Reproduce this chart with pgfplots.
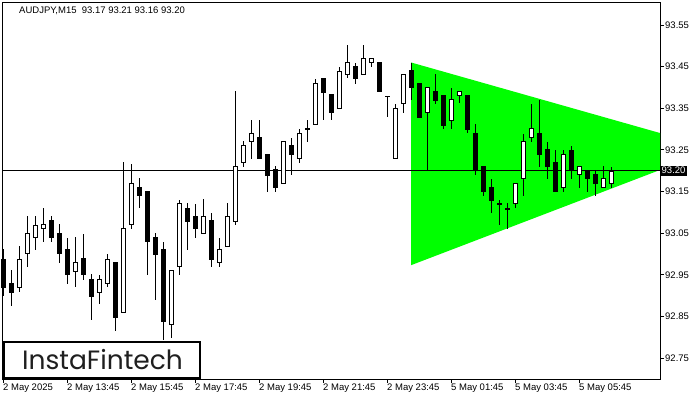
\documentclass[border=0pt]{standalone}
\usepackage{pgfplots}
\usepackage{pgfplotstable}
\pgfplotsset{compat=1.18}
\usepackage{fontspec}
\setmainfont{Liberation Sans}
\newfontfamily\logofont{Poppins}
\definecolor{lime}{RGB}{0,255,0}
\pgfplotstableread{
x  o      h      l      c
0  92.989 93.012 92.900 92.920
1  92.930 92.962 92.877 92.909
2  92.920 93.021 92.909 92.989
3  93.001 93.091 92.969 93.050
4  93.040 93.091 93.011 93.071
5  93.061 93.110 93.029 93.072
6  93.082 93.091 93.029 93.039
7  93.050 93.074 92.979 93.001
8  93.011 93.040 92.930 92.951
9  92.960 93.040 92.920 92.980
10 92.989 93.050 92.939 92.951
11 92.939 92.951 92.840 92.900
12 92.909 92.951 92.880 92.939
13 92.930 93.001 92.920 92.989
14 92.980 92.980 92.817 92.849
15 92.860 93.222 92.860 93.061
16 93.071 93.216 93.061 93.170
17 93.161 93.182 93.110 93.141
18 93.151 93.151 92.951 93.029
19 93.040 93.050 92.889 93.001
20 93.011 93.029 92.793 92.840
21 92.831 92.960 92.800 92.960
22 92.970 93.132 92.951 93.122
23 93.110 93.122 93.011 93.080
24 93.091 93.122 93.040 93.061
25 93.050 93.132 93.050 93.091
26 93.082 93.100 92.969 92.989
27 92.980 93.040 92.969 93.011
28 93.020 93.122 93.020 93.091
29 93.080 93.391 93.070 93.211
30 93.220 93.271 93.210 93.262
31 93.270 93.322 93.230 93.290
32 93.280 93.322 93.230 93.230
33 93.240 93.240 93.150 93.191
34 93.202 93.211 93.150 93.160
35 93.170 93.271 93.170 93.271
36 93.262 93.280 93.191 93.239
37 93.230 93.302 93.220 93.290
38 93.302 93.322 93.270 93.302
39 93.311 93.422 93.311 93.410
40 93.422 93.422 93.322 93.390
41 93.382 93.382 93.322 93.340
42 93.350 93.450 93.350 93.440
43 93.432 93.502 93.422 93.460
44 93.450 93.460 93.410 93.422
45 93.432 93.502 93.432 93.470
46 93.460 93.470 93.450 93.470
47 93.460 93.460 93.390 93.390
48 93.380 93.380 93.330 93.380
49 93.230 93.362 93.230 93.350
50 93.362 93.432 93.341 93.432
51 93.442 93.460 93.370 93.400
52 93.410 93.410 93.330 93.330
53 93.340 93.400 93.202 93.400
54 93.391 93.432 93.360 93.370
55 93.381 93.381 93.300 93.310
56 93.320 93.400 93.300 93.372
57 93.381 93.391 93.362 93.391
58 93.381 93.381 93.290 93.300
59 93.290 93.312 93.191 93.202
60 93.211 93.211 93.140 93.150
61 93.160 93.182 93.100 93.130
62 93.122 93.131 93.071 93.122
63 93.110 93.122 93.061 93.110
64 93.122 93.170 93.110 93.170
65 93.182 93.290 93.140 93.271
66 93.280 93.362 93.270 93.302
67 93.290 93.372 93.210 93.240
68 93.251 93.271 93.182 93.210
69 93.220 93.251 93.150 93.150
70 93.160 93.251 93.150 93.240
71 93.251 93.262 93.182 93.202
72 93.191 93.211 93.160 93.211
73 93.200 93.200 93.150 93.182
74 93.191 93.202 93.140 93.170
75 93.160 93.211 93.160 93.182
76 93.170 93.210 93.160 93.200
}\candles
\begin{document}
\begin{tikzpicture}
\useasboundingbox (-2bp,-21bp) rectangle (698bp,379bp);
\begin{axis}[
  at={(0,0)}, anchor=south west,
  scale only axis, width=658bp, height=376bp,
  xmin=-0.19, xmax=82.06, ymin=92.6996, ymax=93.6029,
  axis line style={line width=1bp},
  clip=false,
  tick align=outside,
  xtick pos=bottom, ytick pos=right, yticklabel pos=right,
  major tick length=4bp,
  tick style={black, line width=1bp},
  xtick={0,8,...,72},
  xticklabels={2 May 2025, 2 May 13:45, 2 May 15:45, 2 May 17:45, 2 May 19:45, 2 May 21:45, 2 May 23:45, 5 May 01:45, 5 May 03:45, 5 May 05:45},
  ytick={92.75,92.85,92.95,93.05,93.15,93.25,93.35,93.45,93.55},
  scaled y ticks=false,
  every tick label/.append style={font=\fontsize{9.5bp}{11bp}\selectfont},
  xticklabel style={anchor=north west, xshift=-1.5bp, inner sep=1bp},
  yticklabel style={anchor=west, inner sep=1bp, /pgf/number format/.cd, fixed, fixed zerofill, precision=2, assume math mode=true},
]
\addplot[fill=lime, draw=none] coordinates {(50.94,93.460) (82.06,93.2905) (82.06,93.2017) (50.94,92.973)} -- cycle;
\addplot[black, line width=1bp] coordinates {(-0.19,93.20) (82.06,93.20)};
% wicks
\addplot[draw=none, mark=none, mark size=0pt, error bars/.cd, y dir=both, y explicit, error mark=none,
  error bar style={draw=black, line width=1bp, line cap=butt}]
  table[x=x, y expr=(\thisrow{h}+\thisrow{l})/2, y error expr=(\thisrow{h}-\thisrow{l})/2] {\candles};
% body outlines / black bodies
\addplot[draw=none, mark=none, mark size=0pt, error bars/.cd, y dir=both, y explicit, error mark=none,
  error bar style={draw=black, line width=5bp, line cap=butt}]
  table[x=x, y expr=(\thisrow{o}+\thisrow{c})/2, y error expr=abs(\thisrow{c}-\thisrow{o})/2+0.0012] {\candles};
% white body interiors
\addplot[draw=none, mark=none, mark size=0pt, error bars/.cd, y dir=both, y explicit, error mark=none,
  error bar style={draw=white, line width=3bp, line cap=butt}]
  table[x=x, y expr=(\thisrow{o}+\thisrow{c})/2, y error expr={ifthenelse(\thisrow{c}>\thisrow{o}+0.003,(\thisrow{c}-\thisrow{o})/2-0.0012,0)}] {\candles};
\node[fill=black, text=white, anchor=west, inner xsep=1.5bp, inner ysep=1.5bp, font=\fontsize{9.5bp}{11bp}\selectfont] at (axis cs:82.06,93.20) {93.20};
\node[anchor=west, inner sep=0pt, font=\fontsize{9.5bp}{11bp}\selectfont] at ([xshift=17bp,yshift=-8bp]rel axis cs:0,1) {AUDJPY,M15\ \ 93.17 93.21 93.16 93.20};
\end{axis}
\draw[line width=2bp, fill=white] (1.7bp,1bp) rectangle (198.3bp,37.3bp);
\node[anchor=center, inner sep=0pt, text=black!88, font=\logofont\fontsize{26.5bp}{28bp}\selectfont] at (100.5bp,19bp) {InstaFintech};
\end{tikzpicture}
\end{document}
